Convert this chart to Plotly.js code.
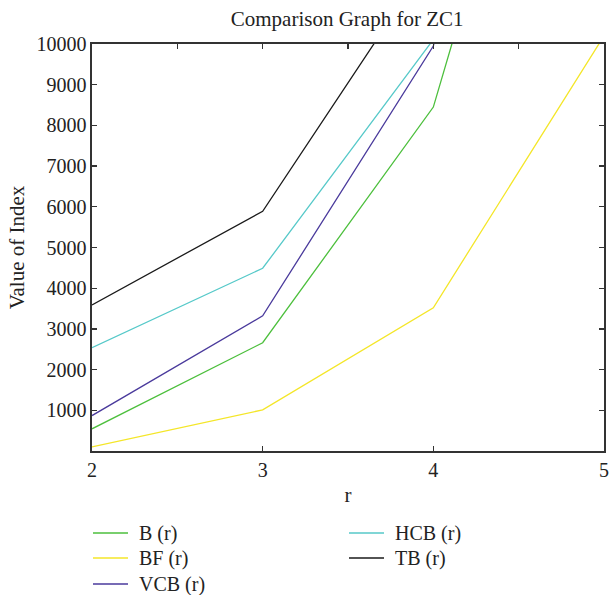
<!DOCTYPE html>
<html>
<head>
<meta charset="utf-8">
<script src="https://cdn.plot.ly/plotly-3.0.1.min.js"></script>
<style>html,body{margin:0;padding:0;background:#fff;}#chart{width:609px;height:595px;}</style>
</head>
<body>
<div id="chart"></div>
<script>
const rValues = [2, 3, 4, 5];
const seriesB   = [545, 2660, 8450, 22700];
const seriesBF  = [100, 1010, 3520, 10200];
const seriesVCB = [870, 3320, 9950, 26000];
const seriesHCB = [2540, 4490, 10110, 28000];
const seriesTB  = [3590, 5890, 12200, 32000];
const seriesNames = ['B (r)', 'BF (r)', 'VCB (r)', 'HCB (r)', 'TB (r)'];
const yTickVals = [1000, 2000, 3000, 4000, 5000, 6000, 7000, 8000, 9000, 10000];
const xTickVals = [2, 3, 4, 5];

const FONT = "Liberation Serif, Times New Roman, serif";
const AX = '#333333';
const colors = ['#4cbf3c', '#f4e628', '#4a3a9c', '#56c9c9', '#1a1a1a'];
const seriesList = [seriesB, seriesBF, seriesVCB, seriesHCB, seriesTB];

const data = seriesList.map((y, i) => ({
  x: rValues, y: y, name: seriesNames[i], type: 'scatter', mode: 'lines',
  line: {color: colors[i], width: 1.3}, showlegend: false
}));
// carrier for the top tick axis
data.push({x: [], y: [], xaxis: 'x2', yaxis: 'y', type: 'scatter', mode: 'lines', showlegend: false, hoverinfo: 'skip'});

// legend drawn in paper coordinates (plot area: 92..604 px wide, 44..451 px tall)
const PL = 92, PW = 512, PB = 451, PH = 407;
const px = v => (v - PL) / PW;
const py = v => (PB - v) / PH;
const legendSlots = [
  {lx: 93, ty: 533}, {lx: 93, ty: 558}, {lx: 93, ty: 584},
  {lx: 349, ty: 533}, {lx: 349, ty: 558}
];
const shapes = [];
const annotations = [];
legendSlots.forEach((s, i) => {
  shapes.push({type: 'line', xref: 'paper', yref: 'paper',
    x0: px(s.lx), x1: px(s.lx + 35), y0: py(s.ty), y1: py(s.ty),
    line: {color: colors[i], width: 1.3}});
  annotations.push({xref: 'paper', yref: 'paper', x: px(s.lx + 44), y: py(s.ty),
    xanchor: 'left', yanchor: 'middle', showarrow: false, text: seriesNames[i],
    font: {family: FONT, size: 20, color: '#222'}});
});

const layout = {
  width: 609, height: 595,
  margin: {l: PL, r: 5, t: 44, b: 144},
  paper_bgcolor: '#fff', plot_bgcolor: '#fff',
  font: {family: FONT, size: 20, color: '#222'},
  showlegend: false,
  title: {text: 'Comparison Graph for ZC1', x: 0.57, xanchor: 'center', y: 0.968, yanchor: 'middle',
    font: {family: FONT, size: 21, color: '#222'}},
  xaxis: {range: [2, 5], tickvals: xTickVals, ticktext: xTickVals.map(String),
    ticks: 'inside', ticklen: 5, tickcolor: AX, tickwidth: 1.3,
    showline: true, linecolor: AX, linewidth: 1.6, mirror: true, showgrid: false, zeroline: false,
    title: {text: 'r', font: {family: FONT, size: 21}, standoff: 8}, tickfont: {family: FONT, size: 20}},
  xaxis2: {range: [2, 5], overlaying: 'x', side: 'top', anchor: 'y', tick0: 2, dtick: 0.5,
    ticks: 'inside', ticklen: 5, tickcolor: AX, tickwidth: 1.3, showticklabels: false,
    showline: false, showgrid: false, zeroline: false},
  yaxis: {range: [0, 10000], tickvals: yTickVals, ticktext: yTickVals.map(String),
    ticks: 'inside', ticklen: 5, tickcolor: AX, tickwidth: 1.3,
    showline: true, linecolor: AX, linewidth: 1.6, mirror: 'ticks', showgrid: false, zeroline: false,
    title: {text: 'Value of Index', font: {family: FONT, size: 21}, standoff: 6}, tickfont: {family: FONT, size: 20}},
  shapes: shapes,
  annotations: annotations
};

Plotly.newPlot('chart', data, layout, {displayModeBar: false, staticPlot: true});
</script>
</body>
</html>
